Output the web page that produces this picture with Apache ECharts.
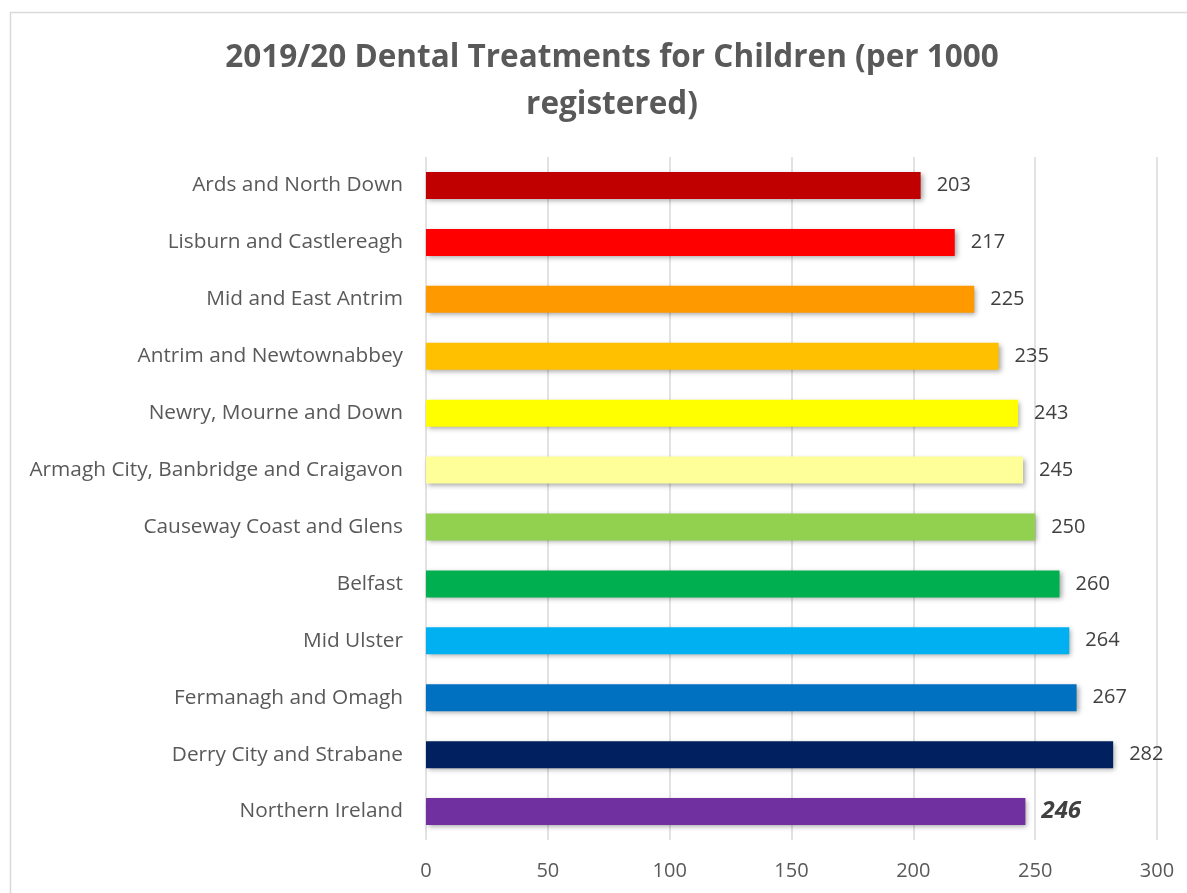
<!DOCTYPE html>
<html><head><meta charset="utf-8">
<script src="https://cdn.jsdelivr.net/npm/echarts@6/dist/echarts.min.js"></script>
<style>html,body{margin:0;padding:0;background:#fff;}#c{width:1187px;height:893px;}</style>
</head><body><div id="c"></div>
<script>
const categories = ["Ards and North Down","Lisburn and Castlereagh","Mid and East Antrim","Antrim and Newtownabbey","Newry, Mourne and Down","Armagh City, Banbridge and Craigavon","Causeway Coast and Glens","Belfast","Mid Ulster","Fermanagh and Omagh","Derry City and Strabane","Northern Ireland"];
const values = [203,217,225,235,243,245,250,260,264,267,282,246];
const colors = ["#C00000","#FF0000","#FF9900","#FFC000","#FFFF00","#FFFF99","#92D050","#00B050","#00B0F0","#0070C0","#002060","#7030A0"];
const xTicks = [0,50,100,150,200,250,300];
const FONT = "'Open Sans', 'Noto Sans', sans-serif";

const chart = echarts.init(document.getElementById('c'), null, {renderer:'canvas'});
const data = values.map((v,i)=>{
  const d = {value:v, itemStyle:{color:colors[i]}};
  if (categories[i]==="Northern Ireland") {
    d.label = {fontWeight:'bold', fontStyle:'italic', fontSize:24, color:'#404040'};
  }
  return d;
});
chart.setOption({
  animation:false,
  graphic:[{type:'rect', shape:{x:10.5,y:12.5,width:1300,height:1000}, style:{fill:'none', stroke:'#d9d9d9', lineWidth:1.5}, silent:true, z:-10}],
  title:{
    text:"2019/20 Dental Treatments for Children (per 1000\nregistered)",
    left:607, textAlign:'center', top:30,
    textStyle:{fontFamily:FONT, fontSize:31.5, fontWeight:'bold', color:'#595959', lineHeight:47}
  },
  grid:{left:426, right:30, top:157, bottom:53},
  xAxis:{
    type:'value', min:xTicks[0], max:xTicks[xTicks.length-1], interval:50,
    axisLine:{show:false}, axisTick:{show:false},
    splitLine:{show:true, lineStyle:{color:'#d9d9d9', width:1.5}},
    axisLabel:{fontFamily:FONT, fontSize:20, color:'#595959', margin:21}
  },
  yAxis:{
    type:'category', data:categories, inverse:true,
    axisLine:{show:false}, axisTick:{show:false},
    axisLabel:{fontFamily:FONT, fontSize:20.8, color:'#595959', margin:23}
  },
  series:[{
    type:'bar', data:data, barWidth:27,
    itemStyle:{shadowColor:'rgba(0,0,0,0.35)', shadowBlur:5, shadowOffsetX:2, shadowOffsetY:2},
    label:{show:true, position:'right', distance:16, fontFamily:FONT, fontSize:20, color:'#404040'}
  }]
});
</script></body></html>
